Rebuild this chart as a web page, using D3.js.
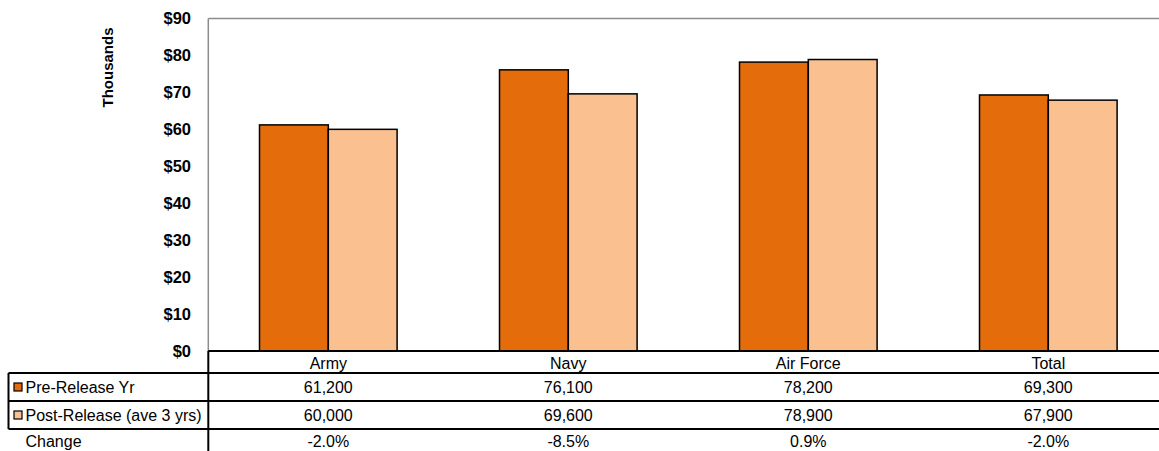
<!DOCTYPE html>
<html><head><meta charset="utf-8">
<script src="https://cdn.jsdelivr.net/npm/d3@7"></script>
<style>body{margin:0;background:#fff;}svg{display:block;font-family:"Liberation Sans",Arial,sans-serif;}</style>
</head><body>
<script>
const categories = ["Army", "Navy", "Air Force", "Total"];
const preRelease = [61200, 76100, 78200, 69300];
const postRelease = [60000, 69600, 78900, 67900];
const changeLabels = ["-2.0%", "-8.5%", "0.9%", "-2.0%"];
const yTicks = [0, 10, 20, 30, 40, 50, 60, 70, 80, 90];
const seriesNames = ["Pre-Release Yr", "Post-Release (ave 3 yrs)"];
const colors = ["#E46C0A", "#FAC090"];

const W = 1159, H = 451;
const svg = d3.select("body").append("svg").attr("width", W).attr("height", H);

const x0 = 208.3, plotTop = 18.5, plotBottom = 351;
const bandW = 240;
const x = d3.scaleBand().domain(categories).range([x0, x0 + bandW * 4]).paddingInner(0).paddingOuter(0);
const y = d3.scaleLinear().domain([0, 90]).range([plotBottom, plotTop]);
const barW = 68.8;

// plot frame (gray)
svg.append("line").attr("x1", x0).attr("x2", W).attr("y1", plotTop).attr("y2", plotTop).attr("stroke", "#8c8c8c").attr("stroke-width", 1.5);
svg.append("line").attr("x1", x0).attr("x2", x0).attr("y1", plotTop).attr("y2", plotBottom).attr("stroke", "#8c8c8c").attr("stroke-width", 1.5);

// y axis labels
const yAxis = d3.axisLeft(y).tickValues(yTicks).tickSize(0).tickPadding(0).tickFormat(d => "$" + d);
const ga = svg.append("g").attr("transform", "translate(191,0)").call(yAxis);
ga.select(".domain").remove();
ga.selectAll("text").attr("font-size", 16.5).attr("font-weight", "bold").attr("fill", "#000").attr("font-family", "Liberation Sans, Arial, sans-serif");

svg.append("text").attr("transform", "translate(112.5,67.5) rotate(-90)").attr("text-anchor", "middle")
  .attr("font-size", 15).attr("font-weight", "bold").text("Thousands");

// bars
const series = [preRelease, postRelease];
categories.forEach((c, i) => {
  const cx = x(c) + x.bandwidth() / 2;
  series.forEach((s, j) => {
    const v = s[i] / 1000;
    const bx = j === 0 ? cx - barW : cx;
    svg.append("rect").attr("x", bx).attr("y", y(v)).attr("width", barW).attr("height", plotBottom - y(v))
      .attr("fill", colors[j]).attr("stroke", "#000").attr("stroke-width", 1.5);
  });
});

// data table
const rowY = [351, 373, 401, 429, 451];
const tbl = svg.append("g");
const line = (x1, y1, x2, y2, w) => tbl.append("line").attr("x1", x1).attr("y1", y1).attr("x2", x2).attr("y2", y2).attr("stroke", "#000").attr("stroke-width", w || 1.5);
line(x0, rowY[0], W, rowY[0], 2);
line(8.5, rowY[1], W, rowY[1], 2);
line(8.5, rowY[2], W, rowY[2], 2);
line(8.5, rowY[3], W, rowY[3], 2);
line(x0, rowY[0], x0, H, 2);
line(8.5, rowY[1], 8.5, rowY[3], 2);

const tf = (sel) => sel.attr("font-size", 16).attr("fill", "#000").attr("dominant-baseline", "central");
categories.forEach((c, i) => {
  const cx = x(c) + x.bandwidth() / 2;
  tf(tbl.append("text").attr("x", cx).attr("y", (rowY[0] + rowY[1]) / 2 + 1).attr("text-anchor", "middle").text(c));
  tf(tbl.append("text").attr("x", cx).attr("y", (rowY[1] + rowY[2]) / 2).attr("text-anchor", "middle").text(d3.format(",")(preRelease[i])));
  tf(tbl.append("text").attr("x", cx).attr("y", (rowY[2] + rowY[3]) / 2).attr("text-anchor", "middle").text(d3.format(",")(postRelease[i])));
  tf(tbl.append("text").attr("x", cx).attr("y", (rowY[3] + rowY[4]) / 2 + 1).attr("text-anchor", "middle").text(changeLabels[i]));
});
// row headers with keys
seriesNames.forEach((n, j) => {
  const cy = (rowY[j + 1] + rowY[j + 2]) / 2;
  tbl.append("rect").attr("x", 14).attr("y", cy - 4).attr("width", 8).attr("height", 8).attr("fill", colors[j]).attr("stroke", "#000").attr("stroke-width", 1.2);
  tf(tbl.append("text").attr("x", 25.5).attr("y", cy).text(n));
});
tf(tbl.append("text").attr("x", 25.5).attr("y", (rowY[3] + rowY[4]) / 2 + 1).text("Change"));
</script>
</body></html>
